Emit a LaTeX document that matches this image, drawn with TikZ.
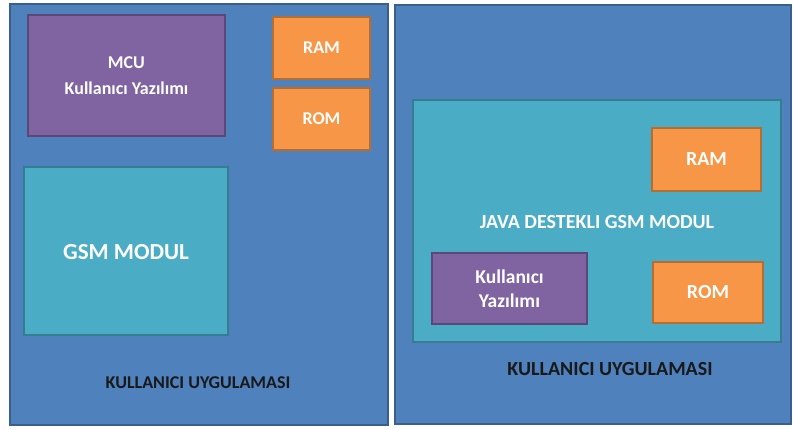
\documentclass[tikz,border=0pt]{standalone}
\usepackage{fontspec}
\setmainfont{Carlito}
\definecolor{boxblue}{HTML}{4F81BD}
\definecolor{boxblueedge}{HTML}{3A5F8C}
\definecolor{boxpurple}{HTML}{8064A2}
\definecolor{boxpurpleedge}{HTML}{5C4776}
\definecolor{boxorange}{HTML}{F79646}
\definecolor{boxorangeedge}{HTML}{B66D31}
\definecolor{boxteal}{HTML}{4BACC6}
\definecolor{boxtealedge}{HTML}{357D91}
\tikzset{
  blk/.style={rectangle, line width=1.5pt, inner sep=0pt, align=center,
    text=white, font=\bfseries},
  outerbox/.style={blk, fill=boxblue, draw=boxblueedge},
  mcubox/.style={blk, fill=boxpurple, draw=boxpurpleedge},
  membox/.style={blk, fill=boxorange, draw=boxorangeedge, font=\bfseries\fontsize{18}{20}\selectfont},
  bigmem/.style={membox, font=\bfseries\fontsize{20}{22}\selectfont},
  gsmbox/.style={blk, fill=boxteal, draw=boxtealedge},
  caption/.style={font=\bfseries\fontsize{18}{20}\selectfont, text=black!90},
}
\begin{document}
\begin{tikzpicture}[x=1pt, y=-1pt]
\useasboundingbox (0,0) rectangle (793,430);
% left panel: MCU based design
\node[outerbox, minimum width=378pt, minimum height=421pt] (lpanel) at (199,214.5) {};
\node[mcubox, minimum width=197pt, minimum height=121pt,
      font=\bfseries\fontsize{18}{26}\selectfont] (mcu) at (126.5,75.5) {MCU\\Kullanıcı Yazılımı};
\node[membox, minimum width=97pt, minimum height=62pt] (lram) at (321.5,48) {RAM};
\node[membox, minimum width=97pt, minimum height=62pt] (lrom) at (321.5,119) {ROM};
\node[gsmbox, minimum width=204pt, minimum height=168pt] (lgsm) at (126,251) {};
\node[text=white, font=\bfseries\fontsize{23}{26}\selectfont] (lgsmtxt) at (126,252) {GSM MODUL};
\node[caption] (lcap) at (198,383) {KULLANICI UYGULAMASI};
% right panel: Java enabled GSM module
\node[outerbox, minimum width=396pt, minimum height=419pt] (rpanel) at (593,214.5) {};
\node[gsmbox, minimum width=368pt, minimum height=242pt] (rgsm) at (597,221) {};
\node[text=white, font=\bfseries\fontsize{20}{22}\selectfont] (rgsmtxt) at (597,222) {JAVA DESTEKLI GSM MODUL};
\node[bigmem, minimum width=109pt, minimum height=63pt] (rram) at (706.5,159.5) {RAM};
\node[mcubox, minimum width=155pt, minimum height=71pt,
      font=\bfseries\fontsize{19.5}{24.5}\selectfont] (ruser) at (509.5,288.5) {Kullanıcı\\Yazılımı};
\node[bigmem, minimum width=110pt, minimum height=61pt] (rrom) at (708,292.5) {ROM};
\node[caption, font=\bfseries\fontsize{20}{22}\selectfont] (rcap) at (610,369) {KULLANICI UYGULAMASI};
\end{tikzpicture}
\end{document}
